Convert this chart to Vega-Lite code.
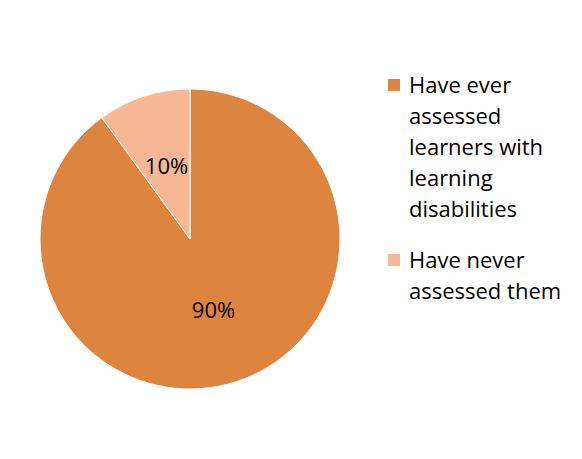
{
  "$schema": "https://vega.github.io/schema/vega-lite/v6.json",
  "width": 300,
  "height": 300,
  "autosize": {"type": "none"},
  "padding": {"left": 40, "top": 89, "right": 242, "bottom": 70},
  "background": "white",
  "data": {
    "values": [
      {"group": "Have ever assessed learners with learning disabilities", "share": 0.9},
      {"group": "Have never assessed them", "share": 0.1}
    ]
  },
  "encoding": {
    "theta": {"field": "share", "type": "quantitative", "stack": true},
    "order": {"field": "share", "type": "quantitative", "sort": "descending"}
  },
  "layer": [
    {
      "mark": {"type": "arc", "outerRadius": 150, "stroke": "#ffffff", "strokeWidth": 1},
      "encoding": {
        "color": {
          "field": "group",
          "type": "nominal",
          "scale": {
            "domain": ["Have ever assessed learners with learning disabilities", "Have never assessed them"],
            "range": ["#DD843E", "#F8B895"]
          },
          "legend": {
            "title": null,
            "orient": "none",
            "legendX": 343,
            "legendY": -15,
            "padding": 0,
            "symbolType": "square",
            "symbolSize": 144,
            "symbolStrokeWidth": 0,
            "labelFont": "Open Sans",
            "labelFontSize": 22,
            "labelColor": "#000000",
            "labelOffset": 4,
            "labelLimit": 300,
            "labelBaseline": "alphabetic",
            "rowPadding": 28,
            "labelExpr": "datum.label == 'Have never assessed them' ? ['Have never', 'assessed them'] : ['Have ever', 'assessed', 'learners with', 'learning', 'disabilities']"
          }
        }
      }
    },
    {
      "mark": {"type": "text", "radius": 76, "font": "Open Sans", "fontSize": 22, "fill": "#000000"},
      "encoding": {
        "detail": {"field": "group", "type": "nominal"},
        "text": {"field": "share", "type": "quantitative", "format": ".0%"}
      }
    }
  ],
  "config": {
    "view": {"stroke": null},
    "style": {"guide-label": {"lineHeight": 31, "dy": 8}}
  }
}
